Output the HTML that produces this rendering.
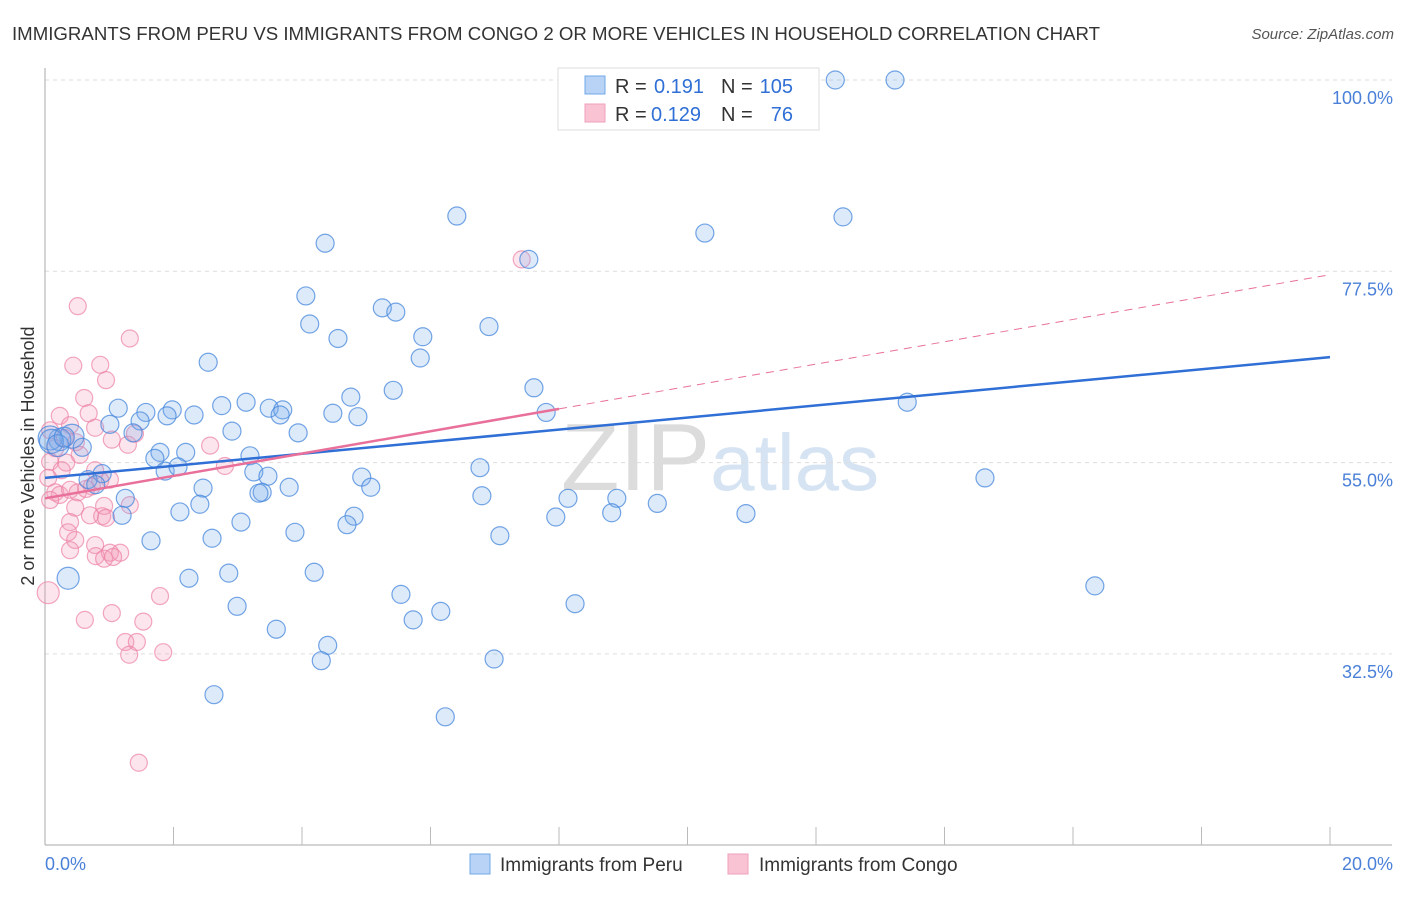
<!DOCTYPE html>
<html><head><meta charset="utf-8"><style>
body{margin:0;background:#fff;font-family:"Liberation Sans",sans-serif}
svg text{font-family:"Liberation Sans",sans-serif}
</style></head><body>
<svg id="chart" width="1406" height="892" xmlns="http://www.w3.org/2000/svg">
<text x="12" y="40" font-size="18" fill="#333" textLength="1088" lengthAdjust="spacingAndGlyphs">IMMIGRANTS FROM PERU VS IMMIGRANTS FROM CONGO 2 OR MORE VEHICLES IN HOUSEHOLD CORRELATION CHART</text>
<text x="1394" y="39" font-size="15" fill="#555" font-style="italic" text-anchor="end">Source: ZipAtlas.com</text>
<text x="720" y="490" font-size="96" fill="#e6e6e6" text-anchor="middle" font-family="Liberation Serif"><tspan fill="#dcdcdc">ZIP</tspan><tspan fill="#d5e3f3" font-family="Liberation Sans" font-size="80">atlas</tspan></text>
<g id="grid"></g>
<g id="axes"></g>
<g id="pts"></g>
<g id="trend"></g>
<text transform="translate(34,456) rotate(-90)" font-size="18" fill="#333" text-anchor="middle">2 or more Vehicles in Household</text>
<g>
<rect x="558" y="68" width="261" height="62" fill="#fff" stroke="#ddd"/>
<rect x="585" y="76" width="20" height="18" fill="#b8d3f5" stroke="#6fa8e8"/>
<rect x="585" y="104" width="20" height="18" fill="#f9c3d4" stroke="#f0a0bb"/>
<text x="615" y="93" font-size="20" fill="#333">R =</text>
<text x="654" y="93" font-size="20" fill="#2f6fd6">0.191</text>
<text x="721" y="93" font-size="20" fill="#333">N =</text>
<text x="793" y="93" font-size="20" fill="#2f6fd6" text-anchor="end">105</text>
<text x="615" y="121" font-size="20" fill="#333">R =</text>
<text x="651" y="121" font-size="20" fill="#2f6fd6">0.129</text>
<text x="721" y="121" font-size="20" fill="#333">N =</text>
<text x="793" y="121" font-size="20" fill="#2f6fd6" text-anchor="end">76</text>
</g>
<g>
<rect x="470" y="854" width="20" height="20" fill="#b8d3f5" stroke="#6fa8e8"/>
<text x="500" y="871" font-size="19" fill="#333">Immigrants from Peru</text>
<rect x="728" y="854" width="20" height="20" fill="#f9c3d4" stroke="#f0a0bb"/>
<text x="759" y="871" font-size="19" fill="#333">Immigrants from Congo</text>
</g>
</svg>
<script>
const blueX=[12.30,13.23,6.41,12.42,10.27,4.36,7.53,4.06,5.25,5.46,4.12,6.91,4.56,5.88,5.84,2.54,5.42,7.61,4.76,13.42,3.13,2.75,1.14,1.57,1.98,2.32,3.49,3.70,4.48,4.87,7.80,1.90,1.48,3.66,1.01,2.91,3.94,1.37,0.42,0.23,0.08,0.58,2.19,1.79,1.71,3.19,1.87,2.07,3.25,3.47,6.77,4.93,0.89,0.67,0.79,2.46,3.80,5.07,3.38,3.33,1.25,6.80,8.14,8.90,9.53,14.63,2.41,2.10,4.81,1.20,7.95,8.82,10.91,3.05,4.70,3.89,7.08,2.60,1.65,0.36,2.24,2.86,4.19,5.54,2.99,6.16,8.25,5.73,3.60,4.40,4.30,6.99,2.63,6.23,16.34,0.10,0.20,0.30];
const blueY=[100,100,84.0,83.9,82.0,80.8,78.9,74.6,73.2,72.7,71.3,71.0,69.6,69.8,67.3,66.8,63.5,63.8,62.7,62.1,62.1,61.7,61.4,60.9,61.2,60.6,61.4,61.2,60.8,60.4,60.9,60.5,59.9,60.6,59.5,58.7,58.5,58.5,58.1,57.7,57.9,56.8,56.2,56.2,55.5,55.8,54.0,54.5,53.9,53.4,54.4,53.3,53.7,53.0,52.4,52.0,52.1,52.1,51.5,51.4,50.8,51.1,50.8,50.8,50.2,53.2,50.1,49.2,48.7,48.8,48.6,49.1,49.0,48.0,47.7,46.8,46.4,46.1,45.8,41.4,41.4,42.0,42.1,39.5,38.1,37.5,38.4,36.5,35.4,33.5,31.7,31.9,27.7,25.1,40.5,57.5,57.0,58.0];
const blueR=[9,9,9,9,9,9,9,9,9,9,9,9,9,9,9,9,9,9,9,9,9,9,9,9,9,9,9,9,9,9,9,9,9,9,9,9,9,9,12,11,12,9,9,9,9,9,9,9,9,9,9,9,9,9,9,9,9,9,9,9,9,9,9,9,9,9,9,9,9,9,9,9,9,9,9,9,9,9,9,11,9,9,9,9,9,9,9,9,9,9,9,9,9,9,9,12,11,10];
const pinkX=[7.42,0.51,1.32,0.44,0.86,0.95,0.61,0.23,0.68,0.39,0.78,0.08,0.31,0.16,0.48,1.04,1.29,2.57,1.40,0.54,0.08,0.33,2.80,0.78,0.26,0.05,1.01,0.73,0.16,0.23,0.39,0.51,0.64,0.86,0.08,0.47,0.92,1.32,0.70,0.89,0.95,0.39,0.36,0.47,0.78,1.01,0.79,1.17,0.92,1.06,0.39,1.79,1.04,0.62,1.53,1.25,1.43,1.31,1.84,1.46,0.05];
const pinkY=[78.9,73.4,69.6,66.4,66.5,64.7,62.6,60.5,60.8,59.4,59.1,58.8,57.9,56.7,57.4,57.7,57.1,57.0,58.4,55.9,55.1,55.0,54.6,54.1,54.1,53.2,53.0,52.2,51.5,51.2,51.8,51.5,51.9,52.9,50.6,49.7,49.9,50.0,48.8,48.7,48.5,48.0,46.8,45.9,45.3,44.4,44.0,44.4,43.7,43.9,44.7,39.3,37.3,36.5,36.3,33.9,33.9,32.4,32.7,19.7,39.7];
const yTicks=[100,77.5,55,32.5];
const yTickLabels=["100.0%","77.5%","55.0%","32.5%"];
const xTickLabels=["0.0%","20.0%"];
const trendBlue=[53.2,67.4];
const trendPink=[50.8,77.1];
const pinkSolidEnd=[8.0];
const NS="http://www.w3.org/2000/svg";
const X=v=>45+v/20*1285;
const Y=v=>80+(100-v)*191.3/22.5;
function mk(t,a,p){const e=document.createElementNS(NS,t);for(const k in a)e.setAttribute(k,a[k]);p.appendChild(e);return e;}
const grid=document.getElementById('grid'),axes=document.getElementById('axes'),pts=document.getElementById('pts'),tr=document.getElementById('trend');
yTicks.forEach((v,i)=>{
 const l=mk('line',{x1:45,x2:1392,y1:Y(v),y2:Y(v),stroke:'#ddd','stroke-dasharray':'4,4'},grid);
 
 
 const t=mk('text',{x:1393,y:Y(v)+24,'font-size':18,fill:'#4a80d8','text-anchor':'end'},axes);
 t.textContent=yTickLabels[i];
 
 
});
const ax=mk('line',{x1:45,x2:45,y1:68,y2:845,stroke:'#aaa'},axes);


const bx=mk('line',{x1:45,x2:1392,y1:845,y2:845,stroke:'#aaa'},axes);


for(let i=1;i<=10;i++){const t=mk('line',{x1:X(i*2),x2:X(i*2),y1:827,y2:845,stroke:'#bbb'},axes);
 
 }
[[0,'start',45],[20,'end',1393]].forEach((d,i)=>{const t=mk('text',{x:d[2],y:870,'font-size':18,fill:'#4a80d8','text-anchor':d[1]},axes);t.textContent=xTickLabels[i];
 
 });
pinkX.forEach((x,i)=>{const r=(i===pinkX.length-1)?11:8.5;const c=mk('circle',{cx:X(x),cy:Y(pinkY[i]),r:r,fill:'rgba(244,150,180,0.25)',stroke:'rgba(236,130,165,0.7)','stroke-width':1.2},pts);
 
 });
blueX.forEach((x,i)=>{const c=mk('circle',{cx:X(x),cy:Y(blueY[i]),r:blueR[i],fill:'rgba(120,170,235,0.25)',stroke:'rgba(70,135,220,0.75)','stroke-width':1.2},pts);
 
 });
const by=x=>trendBlue[0]+(trendBlue[1]-trendBlue[0])*x/20, py=x=>trendPink[0]+(trendPink[1]-trendPink[0])*x/20;
const l1=mk('line',{x1:X(0),y1:Y(by(0)),x2:X(20),y2:Y(by(20)),stroke:'#2f6fd6','stroke-width':2.5},tr);


const l2=mk('line',{x1:X(0),y1:Y(py(0)),x2:X(pinkSolidEnd[0]),y2:Y(py(pinkSolidEnd[0])),stroke:'#e8709a','stroke-width':2.5},tr);


const l3=mk('line',{x1:X(pinkSolidEnd[0]),y1:Y(py(pinkSolidEnd[0])),x2:X(20),y2:Y(py(20)),stroke:'#e8709a','stroke-width':1,'stroke-dasharray':'8,6'},tr);


</script>
</body></html>
